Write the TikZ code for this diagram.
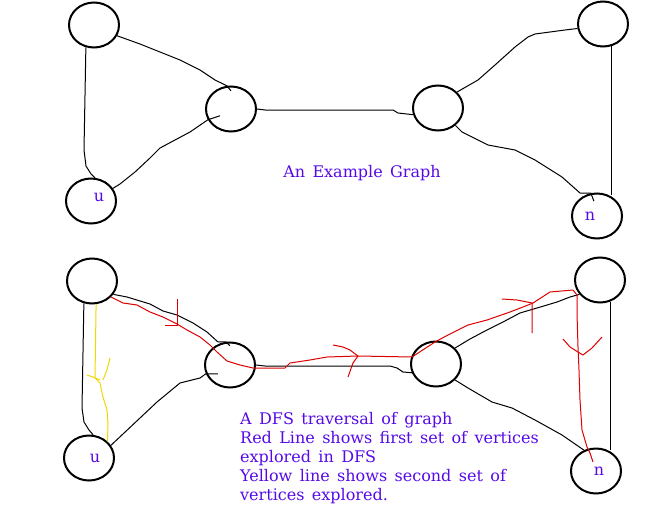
\documentclass[tikz,border=0pt]{standalone}
\usepackage{fontspec}
\setmainfont{DejaVu Serif}
\usetikzlibrary{shapes.geometric}
\definecolor{txtc}{RGB}{85,10,230}
\definecolor{redl}{RGB}{220,0,0}
\definecolor{yell}{RGB}{240,215,0}
\newcommand{\lblfont}{\fontsize{16}{19}\selectfont\spaceskip=7.4pt\relax}
\tikzset{
  vtx/.style={draw=black, ellipse, line width=2pt, minimum width=50pt, minimum height=45pt, inner sep=0pt},
  edg/.style={draw=black, line width=1pt, line join=round},
  redpath/.style={draw=redl, line width=1pt, line join=round},
  yelpath/.style={draw=yell, line width=1pt, line join=round},
  lbl/.style={text=txtc, font=\lblfont, inner sep=0pt}
}
\begin{document}
\begin{tikzpicture}[x=1pt,y=-1pt]
\useasboundingbox (0,0) rectangle (670,525);
% ---------------- top graph ----------------
\node[vtx] (A) at (94,25) {};
\node[vtx] (B) at (231,109) {};
\node[vtx] (C) at (91,201) {};
\node[vtx] (D) at (438,108) {};
\node[vtx] (E) at (603,24) {};
\node[vtx] (F) at (597,216) {};
\node[lbl] (ul1) at (99,197) {u};
\node[lbl] (nl1) at (590,216) {n};
\draw[edg] (A.250) -- (84,150) -- (86,166) -- (91,174) -- (C.80);
\draw[edg] (A.-25) -- (140,44) -- (160,52) -- (180,60) -- (200,70) -- (215,80) -- (B.100) -- ++(4,5);
\draw[edg] (B.205) ++(12,-4) -- (B.205) -- (190,132) -- (175,140) -- (160,148) -- (150,158) -- (135,172) -- (120,184) -- (C.30);
\draw[edg] (B.east) -- (265,110) -- (393,110) -- (398,113) -- (D.195);
\draw[edg] (D.40) -- (478,80) -- (495,65) -- (515,47) -- (528,37) -- (535,34) -- (565,30) -- (E.190);
\draw[edg] (D.-45) -- (462,132) -- (488,145) -- (515,150) -- (535,160) -- (562,177) -- (580,193) -- (F.105) -- ++(3,8);
\draw[edg] (E.-70) -- (E.-70 |- F.60);
\node[lbl] (t1) at (362,173) {An Example Graph};
% ---------------- bottom graph ----------------
\node[vtx] (A2) at (92,281) {};
\node[vtx] (B2) at (230,365) {};
\node[vtx] (C2) at (89,458) {};
\node[vtx] (D2) at (436,364) {};
\node[vtx] (E2) at (600,280) {};
\node[vtx] (F2) at (596,471) {};
\node[lbl] (ul2) at (95,458) {u};
\node[lbl] (nl2) at (599,471) {n};
\draw[edg] (A2.250) -- (82,408) -- (84,422) -- (89,430) -- (C2.80);
\draw[edg] (A2.-32) -- (127,297) -- (150,304) -- (163,311) -- (177,315) -- (193,323) -- (207,332) -- (218,342) -- (B2.100) -- ++(4,4);
\draw[edg] (B2.200) ++(12,0) -- (B2.200) -- (200,378) -- (180,383) -- (157,402) -- (140,418) -- (C2.30);
\draw[edg] (B2.east) -- (265,366) -- (390,366) -- (397,368) -- (403,372) -- (D2.200);
\draw[edg] (D2.40) -- (470,339) -- (487,330) -- (503,322) -- (520,313) -- (537,308) -- (557,302) -- (570,297) -- (E2.215);
\draw[edg] (D2.-40) -- (468,388) -- (492,402) -- (512,408) -- (535,420) -- (562,435) -- (F2.120);
\draw[edg] (E2.-65) -- (E2.-65 |- F2.60);
% red DFS path
\draw[redpath] (A2.-40) -- (123,303) -- (137,305) -- (150,312) -- (163,317) -- (177,324) -- (187,330) -- (200,337) -- (210,345) -- (217,352) -- (227,361) -- (240,365) -- (253,368) -- (285,368) -- (290,363) -- (310,360) -- (327,357) -- (358,356) -- (412,357) -- (435,342) -- (448,335) -- (468,325) -- (487,320) -- (510,312) -- (523,307) -- (533,303) -- (550,292) -- (573,290) -- (577,295) -- (577,313) -- (578,347) -- (579,370) -- (580,400) -- (582,430) -- (587,447) -- (590,453) -- (593,462);
\draw[redpath] (177,299) -- (177,325) -- (165,325);
\draw[redpath] (333,345) -- (343,347) -- (350,350) -- (358,356) -- (353,363) -- (348,377);
\draw[redpath] (502,299) -- (517,300) -- (532,303) -- (532,333);
\draw[redpath] (563,339) -- (570,347) -- (578,352) -- (583,355) -- (592,348) -- (602,337);
% yellow path
\draw[yelpath] (A2.-80) -- (95,378) -- (100,383) -- (103,397) -- (107,410) -- (108,423) -- (C2.42);
\draw[yelpath] (87,375) -- (93,377) -- (100,380);
\draw[yelpath] (110,358) -- (107,370) -- (103,380);
\node[lbl, anchor=north west, align=left] (t2) at (240,412.5) {A DFS traversal of graph\\Red Line shows first set of vertices\\explored in DFS\\Yellow line shows second set of\\vertices explored.};
\end{tikzpicture}
\end{document}
